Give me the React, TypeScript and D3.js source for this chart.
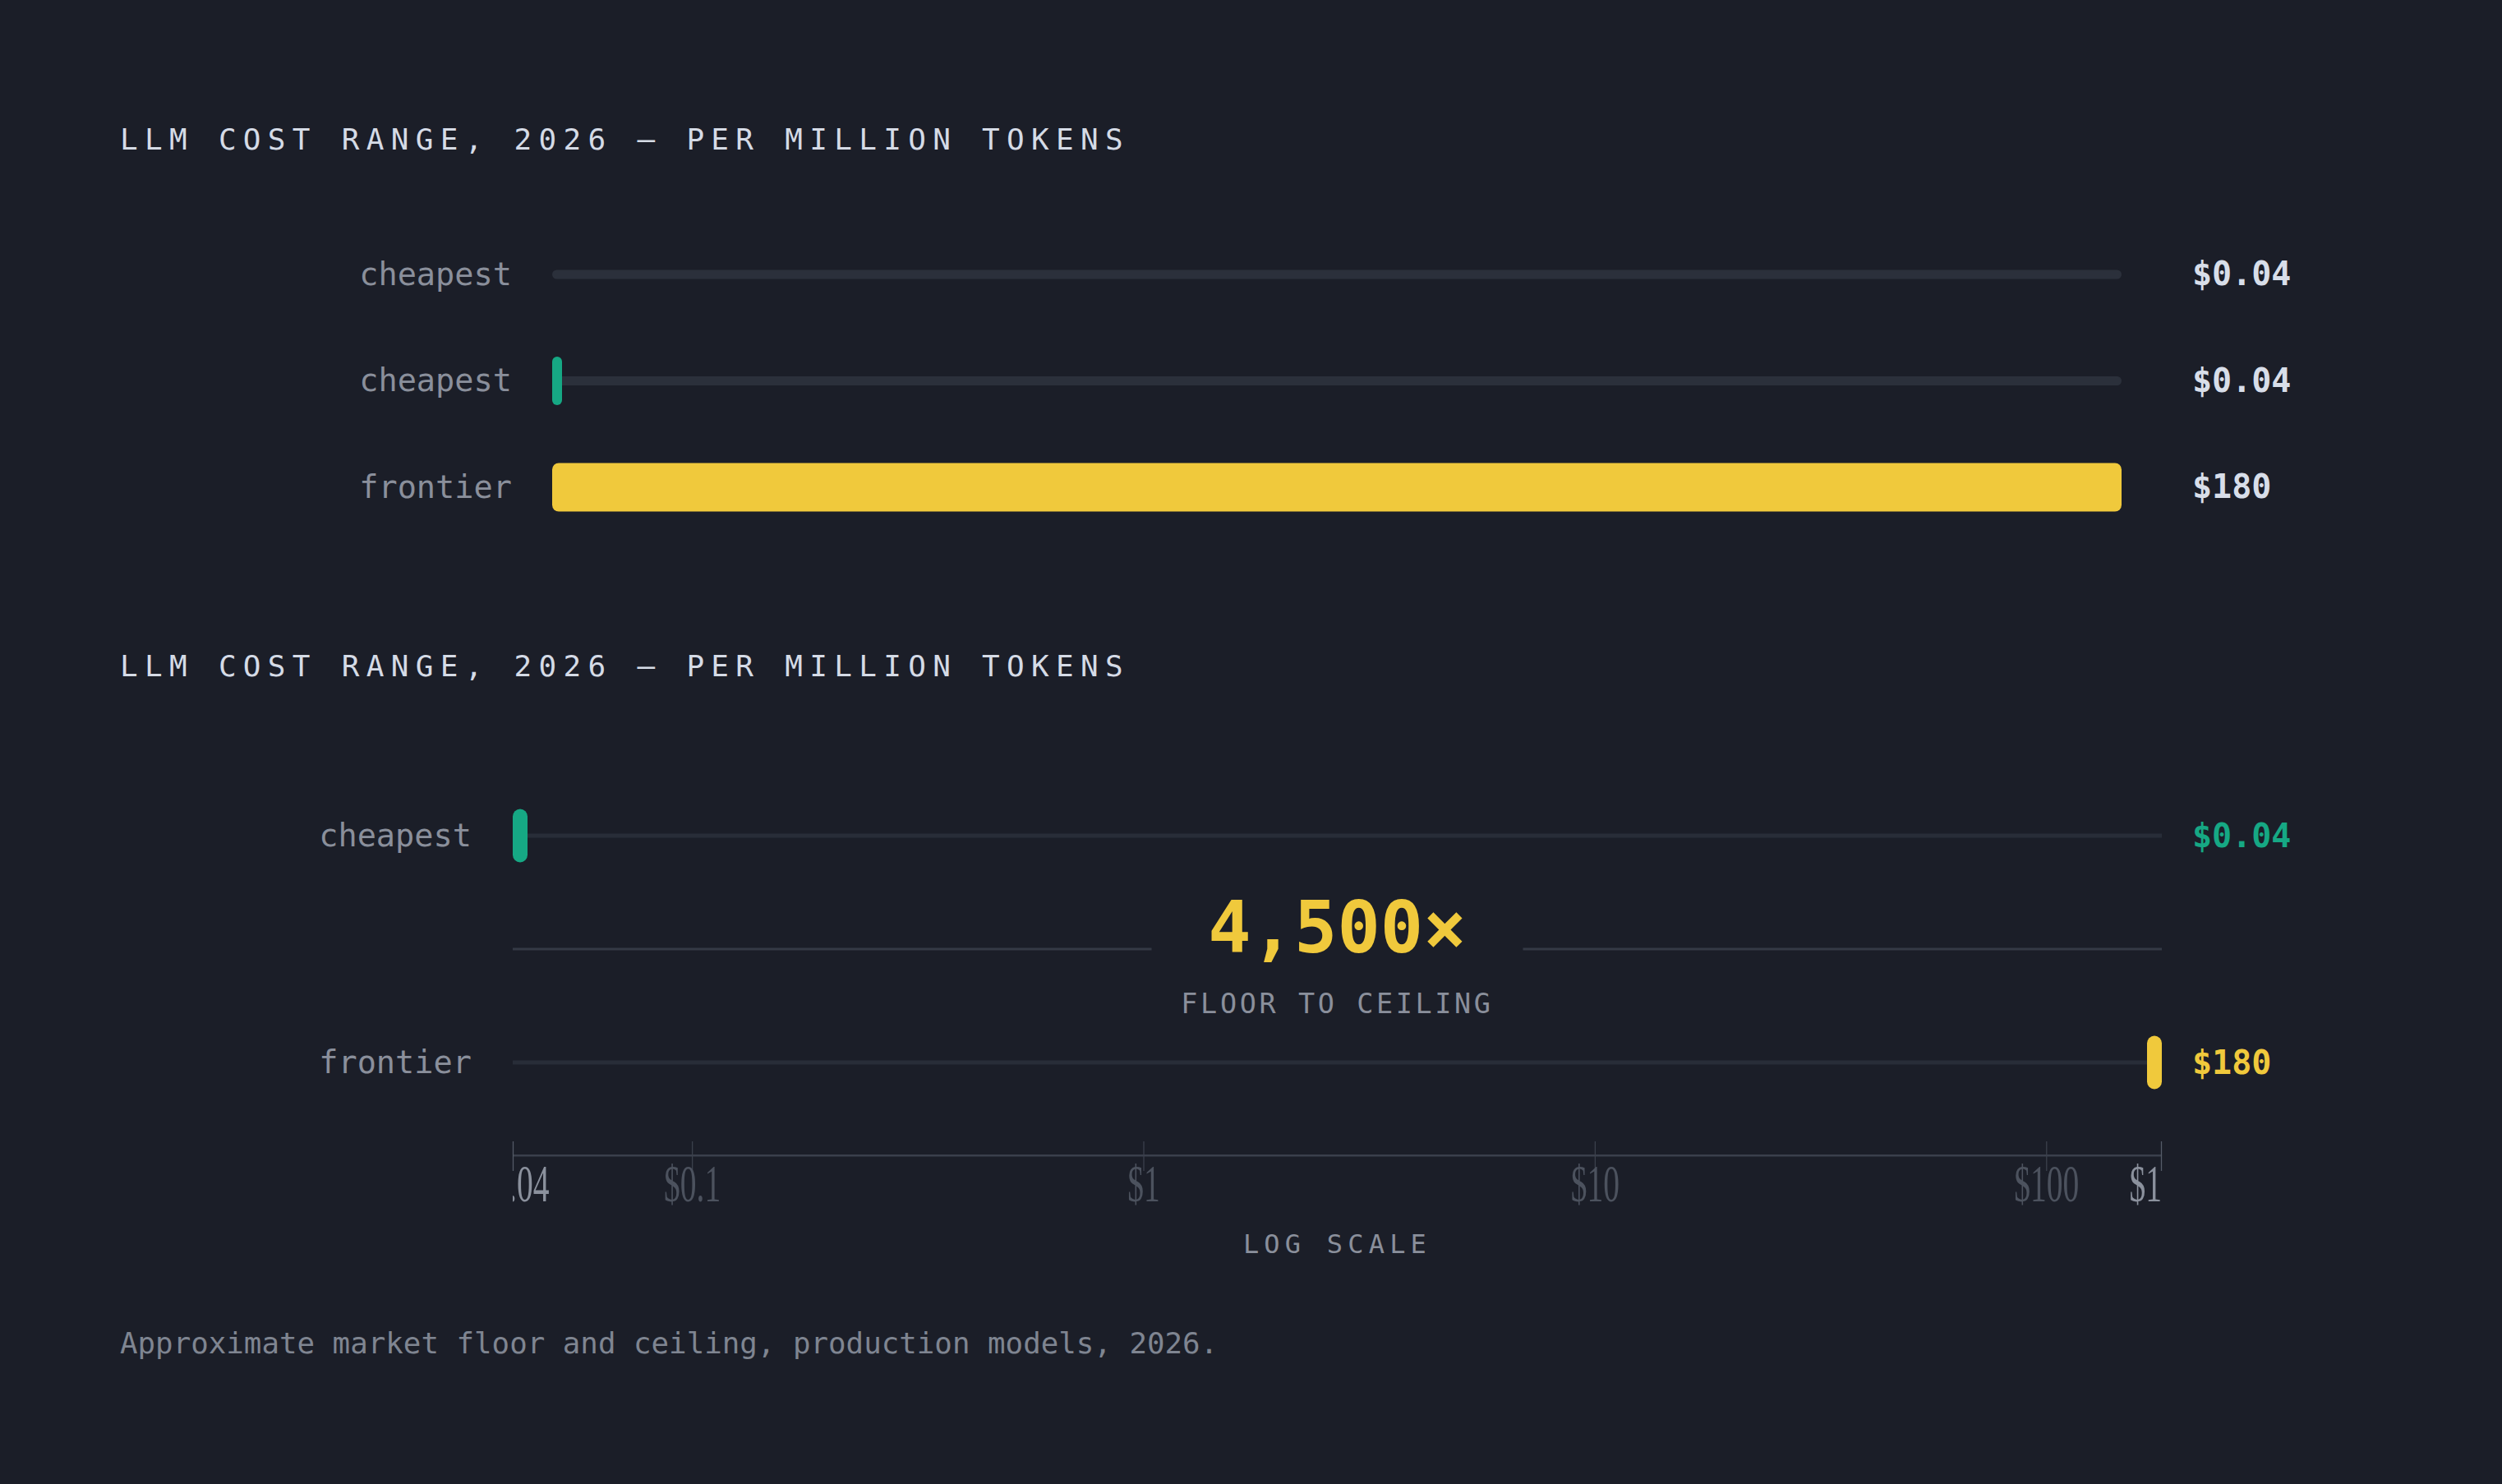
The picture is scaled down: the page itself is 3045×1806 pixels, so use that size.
import { useEffect } from "react";
import * as d3 from "d3";

// ── data ────────────────────────────────────────────────────────────────────
const TITLE = "LLM COST RANGE, 2026 — PER MILLION TOKENS";
const FOOTNOTE = "Approximate market floor and ceiling, production models, 2026.";

const linearLabels = ["cheapest", "cheapest", "frontier"];
const linearValues = [0.04, 0.04, 180];
const linearValueText = ["$0.04", "$0.04", "$180"];

const logLabels = ["cheapest", "frontier"];
const logValues = [0.04, 180];
const logValueText = ["$0.04", "$180"];

const logTicks = [0.04, 0.1, 1, 10, 100, 180];
const logTickLabels = ["$0.04", "$0.1", "$1", "$10", "$100", "$180"];

const RATIO_TEXT = "4,500×";
const RATIO_CAPTION = "FLOOR TO CEILING";
const AXIS_CAPTION = "LOG SCALE";

// ── look ────────────────────────────────────────────────────────────────────
const W = 3045, H = 1806;
const MONO = "'DejaVu Sans Mono', 'Liberation Mono', monospace";
const SERIF = "'Liberation Serif', 'DejaVu Serif', serif";
const C = {
  bg: "#1b1e28",
  title: "#d5dbe6",
  label: "#8a8f9b",
  value: "#d8dee9",
  green: "#16a884",
  yellow: "#f0c93c",
  trackTop: "#2b303b",
  trackBot: "#282d38",
  divider: "#343945",
  axis: "#3b404c",
  tickMid: "#4c525e",
  tickEnd: "#8b919d",
  foot: "#7f8591",
};
// row 2 of the linear chart shows a floor marker at minimum width
const FLOOR_MARK = [false, true, false];

export default function App() {
  useEffect(() => {
    document.body.style.margin = "0";
    document.body.style.background = C.bg;
  }, []);

  // linear (top) chart
  const xLin = d3.scaleLinear().domain([0, 180]).range([672, 2582]);
  const yLin = d3.scalePoint<number>().domain([0, 1, 2]).range([334, 593]);
  const trackH = 11, barH = 59;

  // log (bottom) chart
  const xLog = d3.scaleLog().domain([0.04, 180]).range([624, 2631]);
  const yLog = d3.scalePoint<number>().domain([0, 1]).range([1017, 1293]);
  const [lx0, lx1] = xLog.range();
  const midY = (yLog(0)! + yLog(1)!) / 2;
  const midX = (lx0 + lx1) / 2;
  const markW = 18, markH = 65;
  const axisY = 1406;
  const valueX = 2668;

  return (
    <svg width={W} height={H} style={{ display: "block" }} fontFamily={MONO}>
      <defs>
        <clipPath id="axisClip">
          <rect x={lx0} y={1370} width={lx1 - lx0} height={120} />
        </clipPath>
      </defs>
      <rect width={W} height={H} fill={C.bg} />

      {/* ── Top: linear chart ── */}
      <text x={146} y={182} fontSize={36} letterSpacing={8.3} fill={C.title}>{TITLE}</text>
      {linearValues.map((v, i) => {
        const y = yLin(i)!;
        const w = xLin(v) - xLin(0);
        const [r0, r1] = xLin.range();
        return (
          <g key={i}>
            <text x={r0 - 49} y={y + 12.5} textAnchor="end" fontSize={38.6} fill={C.label}>{linearLabels[i]}</text>
            <rect x={r0} y={y - trackH / 2} width={r1 - r0} height={trackH} rx={trackH / 2} fill={C.trackTop} />
            {FLOOR_MARK[i] && (
              <rect x={r0} y={y - barH / 2} width={Math.max(w, 12)} height={barH} rx={6} fill={C.green} />
            )}
            {!FLOOR_MARK[i] && w > 1 && (
              <rect x={r0} y={y - barH / 2} width={w} height={barH} rx={8} fill={C.yellow} />
            )}
            <text x={valueX} y={y + 13} fontSize={40} fontWeight="bold" fill={C.value}>{linearValueText[i]}</text>
          </g>
        );
      })}

      {/* ── Bottom: log chart ── */}
      <text x={146} y={822.5} fontSize={36} letterSpacing={8.3} fill={C.title}>{TITLE}</text>
      {logValues.map((v, i) => {
        const y = yLog(i)!;
        const col = i === 0 ? C.green : C.yellow;
        const mx = Math.max(lx0, Math.min(lx1 - markW, xLog(v) - markW / 2));
        return (
          <g key={i}>
            <text x={lx0 - 50} y={y + 12.5} textAnchor="end" fontSize={38.6} fill={C.label}>{logLabels[i]}</text>
            <rect x={lx0} y={y - 2.5} width={lx1 - lx0} height={5} fill={C.trackBot} />
            <rect x={mx} y={y - markH / 2} width={markW} height={markH} rx={markW / 2} fill={col} />
            <text x={valueX} y={y + 13.5} fontSize={40} fontWeight="bold" fill={col}>{logValueText[i]}</text>
          </g>
        );
      })}

      {/* divider with ratio callout */}
      <rect x={lx0} y={midY - 1.5} width={midX - 226 - lx0} height={3} fill={C.divider} />
      <rect x={midX + 226} y={midY - 1.5} width={lx1 - midX - 226} height={3} fill={C.divider} />
      <text x={midX} y={1159} textAnchor="middle" fontSize={87} fontWeight="bold" fill={C.yellow}>{RATIO_TEXT}</text>
      <text x={midX} y={1233} textAnchor="middle" fontSize={33.5} letterSpacing={3.6} fill={C.label}>{RATIO_CAPTION}</text>

      {/* log axis */}
      <rect x={lx0} y={axisY - 1} width={lx1 - lx0} height={2.5} fill={C.axis} />
      {logTicks.map((t, i) => {
        const end = i === 0 || i === logTicks.length - 1;
        const x = Math.min(lx1 - 0.5, Math.max(lx0 + 0.5, xLog(t)));
        return (
          <line key={i} x1={x} x2={x} y1={1389} y2={1425}
            stroke={end ? "#555b67" : C.axis} strokeWidth={1.3} />
        );
      })}
      <g clipPath="url(#axisClip)">
        {logTicks.map((t, i) => {
          const end = i === 0 || i === logTicks.length - 1;
          return (
            <text key={i} transform={`translate(${xLog(t)},1462) scale(1,1.62)`}
              textAnchor="middle" fontFamily={SERIF} fontSize={39.5}
              fill={end ? C.tickEnd : C.tickMid}>{logTickLabels[i]}</text>
          );
        })}
      </g>
      <text x={midX} y={1525} textAnchor="middle" fontSize={32} letterSpacing={6.2} fill={C.label}>{AXIS_CAPTION}</text>

      <text x={146} y={1647} fontSize={35.8} fill={C.foot}>{FOOTNOTE}</text>
    </svg>
  );
}
